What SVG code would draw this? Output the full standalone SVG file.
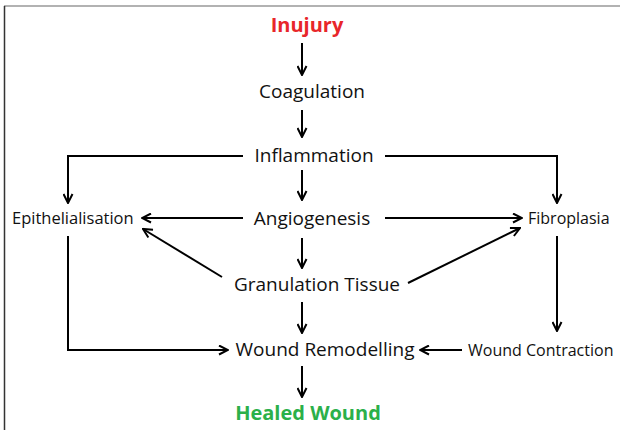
<svg xmlns="http://www.w3.org/2000/svg" width="620" height="430" viewBox="0 0 620 430">
<style>
text{font-family:"Open Sans","DejaVu Sans",sans-serif;fill:#111}
.m{font-size:19px;text-anchor:middle}
.s{font-size:16px}
.b{font-size:20px;font-weight:bold;text-anchor:middle}
.c line,.c polyline{stroke:#000;stroke-width:2;fill:none}
</style>
<defs>
<marker id="ah" viewBox="0 0 11 11" refX="10" refY="5.5" markerWidth="11" markerHeight="11" markerUnits="userSpaceOnUse" orient="auto">
<polyline points="1,1 10,5.5 1,10" fill="none" stroke="#000" stroke-width="2"/>
</marker>
</defs>
<rect width="620" height="430" fill="#fff"/>
<line x1="4" y1="6" x2="620" y2="6" stroke="#999" stroke-width="1.5"/>
<line x1="4.5" y1="6" x2="4.5" y2="430" stroke="#333" stroke-width="1.5"/>
<g id="n-injury"><text class="b" x="307" y="32" style="fill:#e8262a">Inujury</text></g>
<g id="n-coag"><text class="m" x="312" y="98">Coagulation</text></g>
<g id="n-infl"><text class="m" x="314" y="162">Inflammation</text></g>
<g id="n-angio"><text class="m" x="312" y="225">Angiogenesis</text></g>
<g id="n-epi"><text class="s" x="12" y="224" style="font-size:16.5px">Epithelialisation</text></g>
<g id="n-fibro"><text class="s" x="528" y="224">Fibroplasia</text></g>
<g id="n-gran"><text class="m" x="317" y="291">Granulation Tissue</text></g>
<g id="n-remod"><text class="m" x="325" y="356">Wound Remodelling</text></g>
<g id="n-contr"><text class="s" x="468" y="356">Wound Contraction</text></g>
<g id="n-healed"><text class="b" x="308" y="420" style="fill:#2bb04a">Healed Wound</text></g>
<g id="connectors" class="c">
<line x1="302" y1="43" x2="302" y2="75" marker-end="url(#ah)"/>
<line x1="302" y1="110" x2="302" y2="137" marker-end="url(#ah)"/>
<line x1="302" y1="170" x2="302" y2="200" marker-end="url(#ah)"/>
<line x1="302" y1="238" x2="302" y2="268" marker-end="url(#ah)"/>
<line x1="302" y1="302" x2="302" y2="333" marker-end="url(#ah)"/>
<line x1="302" y1="366" x2="302" y2="397" marker-end="url(#ah)"/>
<polyline points="243,156 68,156 68,203" marker-end="url(#ah)"/>
<polyline points="385,156 557,156 557,203" marker-end="url(#ah)"/>
<line x1="243" y1="218" x2="142" y2="218" marker-end="url(#ah)"/>
<line x1="385" y1="218" x2="522" y2="218" marker-end="url(#ah)"/>
<line x1="222" y1="277" x2="143" y2="229" marker-end="url(#ah)"/>
<line x1="408" y1="283" x2="520" y2="228" marker-end="url(#ah)"/>
<polyline points="68,236 68,350 228,350" marker-end="url(#ah)"/>
<line x1="557" y1="236" x2="557" y2="331" marker-end="url(#ah)"/>
<line x1="462" y1="350" x2="420" y2="350" marker-end="url(#ah)"/>
</g>
</svg>
